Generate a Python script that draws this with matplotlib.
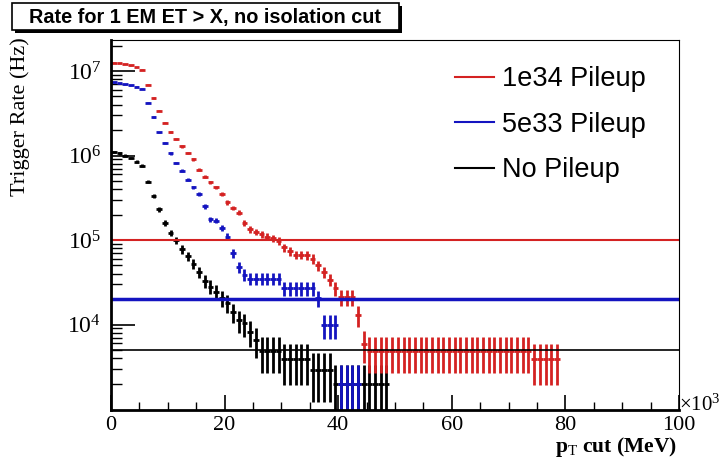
import matplotlib.pyplot as plt
from matplotlib.patches import Rectangle
import numpy as np

plt.rcParams['mathtext.fontset'] = 'custom'
plt.rcParams['mathtext.rm'] = 'Liberation Serif'
plt.rcParams['mathtext.it'] = 'Liberation Serif:italic'

# rate above threshold, one bin per GeV (x axis in units of 10^3 MeV)
red_rate = [
    12.6e6, 12.4e6, 12.1e6, 11.7e6, 11.2e6, 10.4e6,
    6.9e6, 4.8e6, 3.4e6, 2.45e6, 1.9e6, 1.57e6, 1.28e6, 1.07e6, 9.0e5,
    6.8e5, 5.6e5, 4.8e5, 4.2e5, 3.55e5, 2.8e5, 2.4e5, 2.1e5, 1.6e5, 1.34e5,
    1.25e5, 1.17e5, 1.1e5, 1.05e5, 9.8e4,
    8.2e4, 7.4e4, 6.7e4, 6.7e4, 6.6e4, 6.0e4, 5.0e4, 4.2e4, 3.4e4, 2.7e4,
    2.1e4, 2.1e4, 2.1e4, 1.3e4, 5.9e3,
    4.9e3, 4.9e3, 4.9e3, 4.9e3, 4.9e3, 4.9e3, 4.9e3, 4.9e3, 4.9e3, 4.9e3,
    4.9e3, 4.9e3, 4.9e3, 4.9e3, 4.9e3, 4.9e3, 4.9e3, 4.9e3, 4.9e3, 4.9e3,
    4.9e3, 4.9e3, 4.9e3, 4.9e3, 4.9e3, 4.9e3, 4.9e3, 4.9e3, 4.9e3,
    3.9e3, 3.9e3, 3.9e3, 3.9e3, 3.9e3,
]
blue_rate = [
    7.4e6, 7.2e6, 7.0e6, 6.8e6, 6.5e6, 6.2e6,
    4.2e6, 2.86e6, 1.88e6, 1.4e6, 1.06e6,
    8.2e5, 6.6e5, 5.2e5, 4.2e5, 3.5e5, 2.5e5, 1.76e5, 1.7e5, 1.38e5, 1.1e5,
    7.0e4, 4.8e4, 3.9e4,
    3.5e4, 3.5e4, 3.5e4, 3.5e4, 3.5e4, 3.5e4,
    2.7e4, 2.7e4, 2.7e4, 2.7e4, 2.7e4, 2.7e4,
    2.05e4,
    9.8e3, 9.8e3, 9.8e3,
    1.96e3, 1.96e3, 1.96e3, 1.96e3,
]
black_rate = [
    1.1e6, 1.06e6, 1.0e6, 9.3e5, 8.5e5, 7.6e5,
    4.9e5, 3.3e5, 2.3e5, 1.6e5, 1.22e5, 1.0e5, 7.8e4, 6.4e4, 5.2e4,
    4.2e4, 3.3e4, 2.8e4, 2.45e4, 2.05e4, 1.8e4, 1.4e4, 1.13e4, 1.03e4,
    8.2e3, 6.6e3,
    4.9e3, 4.9e3, 4.9e3, 4.9e3,
    3.9e3, 3.9e3, 3.9e3, 3.9e3, 3.9e3,
    2.9e3, 2.9e3, 2.9e3, 2.9e3,
    1.96e3, 1.96e3, 1.96e3, 1.96e3, 1.96e3, 1.96e3, 1.96e3, 1.96e3, 1.96e3, 1.96e3,
]
event_weight = 980.0  # Hz per simulated event

labels = ['1e34 Pileup', '5e33 Pileup', 'No Pileup']
colors = ['#d42222', '#1414c0', 'black']
thresholds = [1e5, 2e4, 5e3]
threshold_widths = [1.5, 2.5, 1.2]

fig = plt.figure(figsize=(7.21, 4.62), dpi=100)
ax = fig.add_axes([111/721, 52/462, 568/721, 370/462])

for rate, col in [(black_rate, colors[2]), (blue_rate, colors[1]), (red_rate, colors[0])]:
    rate = np.array(rate)
    x = np.arange(len(rate)) + 0.5
    err = np.sqrt(rate * event_weight)
    ax.errorbar(x, rate, xerr=0.5, yerr=err, fmt='none', ecolor=col, elinewidth=2, capsize=0)

for val, col, lw in zip(thresholds, colors, threshold_widths):
    ax.axhline(val, color=col, lw=lw)

ax.set_yscale('log')
ax.set_xlim(0, 100)
ax.set_ylim(975, 2.33e7)
ax.set_yticks([1e4, 1e5, 1e6, 1e7])
ax.set_yticklabels([r'$10^{4}$', r'$10^{5}$', r'$10^{6}$', r'$10^{7}$'])
ax.set_xticks([0, 20, 40, 60, 80, 100])
ax.set_xticks(np.arange(0, 101, 5), minor=True)
ax.tick_params(which='both', direction='in', top=False, right=False)
ax.tick_params(axis='y', labelsize=17, pad=7)
ax.tick_params(axis='x', labelsize=16, pad=4)
ax.tick_params(which='major', length=11, width=1.2)
ax.tick_params(which='minor', length=6, width=1.0)
ax.tick_params(axis='y', which='major', length=17)
ax.tick_params(axis='y', which='minor', length=8)
for lab in ax.get_xticklabels() + ax.get_yticklabels():
    lab.set_family('Liberation Serif')
ax.spines['left'].set_linewidth(2)
ax.spines['bottom'].set_linewidth(2)
ax.spines['top'].set_linewidth(0.8)
ax.spines['right'].set_linewidth(0.8)

handles = [plt.Line2D([0], [0], color=c, lw=1.5) for c in colors]
ax.legend(handles, labels, loc='upper left', bbox_to_anchor=(0.562, 0.995), frameon=False,
          prop={'family': 'Liberation Sans', 'size': 19.5}, handlelength=1.45,
          labelspacing=0.72, handletextpad=0.3)

fig.text(20/721, 1 - 117/462, 'Trigger Rate (Hz)', rotation=90, ha='center', va='center',
         family='Liberation Serif', fontsize=16)
fig.text(677/721, 1 - 447/462, r'p$_{\mathrm{T}}$ cut (MeV)', ha='right', va='center',
         family='Liberation Serif', fontsize=15.5, fontweight='bold')
fig.text(679/721, 1 - 404/462, r'$\times10^{3}$', ha='left', va='center', fontsize=15)

# title pave with shadow
fig.patches.append(Rectangle((15/721, 1 - 33/462), 387/721, 27/462, transform=fig.transFigure,
                             facecolor='black', edgecolor='none', zorder=1))
fig.patches.append(Rectangle((12/721, 1 - 30/462), 387/721, 27/462, transform=fig.transFigure,
                             facecolor='white', edgecolor='black', lw=1.2, zorder=2))
fig.text(205/721, 1 - 17/462, 'Rate for 1 EM ET > X, no isolation cut', ha='center', va='center',
         family='Liberation Sans', fontweight='bold', fontsize=14.3, zorder=3)

fig.savefig('out.png', dpi=100)
